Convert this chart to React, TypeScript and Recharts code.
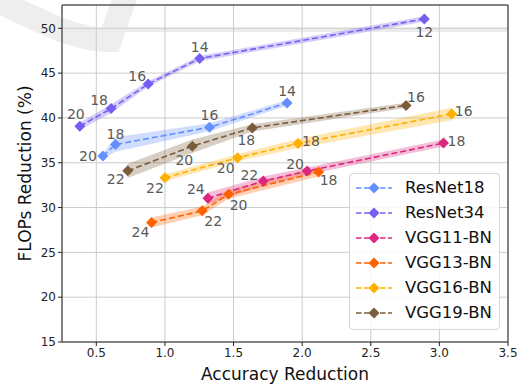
import {
  Area,
  CartesianGrid,
  ComposedChart,
  LabelList,
  Line,
  ReferenceArea,
  XAxis,
  YAxis,
} from "recharts";

// values
const resnet18X = [0.548, 0.64, 1.325, 1.89];
const resnet18Y = [35.74, 37.04, 38.96, 41.67];
const resnet18Err = [0.3, 0.8, 0.45, 0.3];
const resnet18Labels = ["20", "18", "16", "14"];

const resnet34X = [0.38, 0.608, 0.878, 1.253, 2.89];
const resnet34Y = [39.07, 41.04, 43.78, 46.63, 51.04];
const resnet34Err = [0.4, 0.5, 0.3, 0.3, 0.3];
const resnet34Labels = ["20", "18", "16", "14", "12"];

const vgg11X = [1.313, 1.717, 2.036, 3.03];
const vgg11Y = [31.04, 32.96, 34.07, 37.2];
const vgg11Err = [0.65, 0.5, 0.4, 0.4];
const vgg11Labels = ["24", "22", "20", "18"];

const vgg13X = [0.902, 1.272, 1.464, 2.12];
const vgg13Y = [28.33, 29.63, 31.48, 33.96];
const vgg13Err = [0.55, 0.5, 0.5, 0.5];
const vgg13Labels = ["24", "22", "20", "18"];

const vgg16X = [1.0, 1.53, 1.97, 3.09];
const vgg16Y = [33.33, 35.56, 37.15, 40.44];
const vgg16Err = [0.4, 0.4, 0.5, 0.7];
const vgg16Labels = ["22", "20", "18", "16"];

const vgg19X = [0.729, 1.2, 1.637, 2.757];
const vgg19Y = [34.1, 36.85, 38.89, 41.4];
const vgg19Err = [0.8, 0.75, 0.4, 0.3];
const vgg19Labels = ["22", "20", "18", "16"];

const xTicks = [0.5, 1.0, 1.5, 2.0, 2.5, 3.0, 3.5];
const yTicks = [15, 20, 25, 30, 35, 40, 45, 50];

// where each point label sits relative to its marker (px)
const resnet18Offsets: [number, number][] = [[-15, 0], [0, -10], [0, -12], [0, -12]];
const resnet34Offsets: [number, number][] = [[-4, -12], [-12, -9], [-11, -8], [0, -12], [0, 13]];
const vgg11Offsets: [number, number][] = [[-12, -9], [-14, -6], [-12, -7], [13, -2]];
const vgg13Offsets: [number, number][] = [[-11, 9], [11, 10], [10, 11], [10, 8]];
const vgg16Offsets: [number, number][] = [[-10, 10], [-12, 10], [13, -2], [12, -3]];
const vgg19Offsets: [number, number][] = [[-12, 8], [-8, 14], [-6, 12], [10, -8]];

const series = [
  { name: "ResNet18", color: "#648FFF", xs: resnet18X, ys: resnet18Y, errs: resnet18Err, labels: resnet18Labels, offsets: resnet18Offsets },
  { name: "ResNet34", color: "#785EF0", xs: resnet34X, ys: resnet34Y, errs: resnet34Err, labels: resnet34Labels, offsets: resnet34Offsets },
  { name: "VGG11-BN", color: "#DC267F", xs: vgg11X, ys: vgg11Y, errs: vgg11Err, labels: vgg11Labels, offsets: vgg11Offsets },
  { name: "VGG13-BN", color: "#FE6100", xs: vgg13X, ys: vgg13Y, errs: vgg13Err, labels: vgg13Labels, offsets: vgg13Offsets },
  { name: "VGG16-BN", color: "#FFB000", xs: vgg16X, ys: vgg16Y, errs: vgg16Err, labels: vgg16Labels, offsets: vgg16Offsets },
  { name: "VGG19-BN", color: "#7A5C3A", xs: vgg19X, ys: vgg19Y, errs: vgg19Err, labels: vgg19Labels, offsets: vgg19Offsets },
];

const rowsFor = (s: (typeof series)[number]) =>
  s.xs.map((x, i) => ({
    x,
    y: s.ys[i],
    band: [s.ys[i] - s.errs[i], s.ys[i] + s.errs[i]],
    label: s.labels[i],
  }));

const diamond = (cx: number, cy: number, r: number) =>
  `M${cx},${cy - r}L${cx + r},${cy}L${cx},${cy + r}L${cx - r},${cy}Z`;

const font = "'DejaVu Sans', sans-serif";

const App = () => {
  return (
    <div style={{ position: "absolute", left: 0, top: 0, width: 532, height: 389, background: "#fff", fontFamily: font }}>
      {/* faint watermark behind the plot */}
      <svg width={532} height={389} style={{ position: "absolute", left: 0, top: 0 }}>
        <path d="M -5 0 C 30 15, 70 40, 110 40 L 126 -5" stroke="#eeeeee" strokeWidth={24} fill="none" />
        <rect x={63} y={27.5} width={445} height={4.5} fill="#ececec" />
      </svg>
      <div style={{ position: "absolute", left: 0, top: 0 }}>
        <ComposedChart width={532} height={389} margin={{ top: 5, right: 24, bottom: 0, left: 0 }}>
          <CartesianGrid stroke="#cccccc" strokeWidth={1} />
          <XAxis
            dataKey="x"
            type="number"
            domain={[0.25, 3.5]}
            ticks={xTicks}
            allowDataOverflow
            tickFormatter={(v: number) => v.toFixed(1)}
            height={47}
            axisLine={false}
            tickLine={{ stroke: "#222" }}
            tickSize={4}
            tick={{ fontSize: 12, fill: "#222", fontFamily: font }}
            label={{ value: "Accuracy Reduction", position: "insideBottom", offset: 9, fontSize: 17, fill: "#111", fontFamily: font }}
          />
          <YAxis
            type="number"
            domain={[15, 52.6]}
            ticks={yTicks}
            allowDataOverflow
            width={62}
            axisLine={false}
            tickLine={{ stroke: "#222" }}
            tickSize={4}
            tick={{ fontSize: 12, fill: "#222", fontFamily: font }}
            label={{ value: "FLOPs Reduction (%)", angle: -90, position: "insideLeft", offset: 25, textAnchor: "middle", fontSize: 17, fill: "#111", fontFamily: font }}
          />
          {series.map((s) => (
            <Area
              key={`${s.name}-band`}
              data={rowsFor(s)}
              dataKey="band"
              type="linear"
              stroke="none"
              fill={s.color}
              fillOpacity={0.3}
              dot={false}
              activeDot={false}
              legendType="none"
              isAnimationActive={false}
            />
          ))}
          {series.map((s) => (
            <Line
              key={s.name}
              data={rowsFor(s)}
              dataKey="y"
              type="linear"
              stroke={s.color}
              strokeWidth={1.6}
              strokeDasharray="6 3"
              dot={(p: any) => (
                <path key={`${s.name}-dot-${p.index}`} d={diamond(p.cx, p.cy, 5.5)} fill={s.color} />
              )}
              activeDot={false}
              isAnimationActive={false}
            >
              <LabelList
                dataKey="label"
                content={(p: any) => {
                  const [dx, dy] = s.offsets[p.index] ?? [0, 0];
                  return (
                    <text
                      x={p.x + dx}
                      y={p.y + dy}
                      textAnchor="middle"
                      dominantBaseline="central"
                      fontSize={14}
                      fill="#5a5a5a"
                      fontFamily={font}
                    >
                      {p.value}
                    </text>
                  );
                }}
              />
            </Line>
          ))}
          <ReferenceArea x1={0.25} x2={3.5} y1={15} y2={52.6} fill="none" stroke="#222" strokeWidth={1} />
        </ComposedChart>
      </div>
      {/* legend box */}
      <div
        style={{
          position: "absolute",
          left: 349,
          top: 173,
          width: 151,
          height: 157,
          border: "1px solid #d6d6d6",
          borderRadius: 4,
          background: "rgba(255,255,255,0.85)",
          boxSizing: "border-box",
          paddingTop: 1,
        }}
      >
        {series.map((s) => (
          <div key={s.name} style={{ display: "flex", alignItems: "center", height: 25 }}>
            <svg width={50} height={14} style={{ marginLeft: 5 }}>
              <line x1={1} y1={7} x2={37} y2={7} stroke={s.color} strokeWidth={1.6} strokeDasharray="5.5 2.5" />
              <path d={diamond(19, 7, 5.5)} fill={s.color} />
            </svg>
            <span style={{ fontSize: 16.5, color: "#111" }}>{s.name}</span>
          </div>
        ))}
      </div>
    </div>
  );
};

export default App;
